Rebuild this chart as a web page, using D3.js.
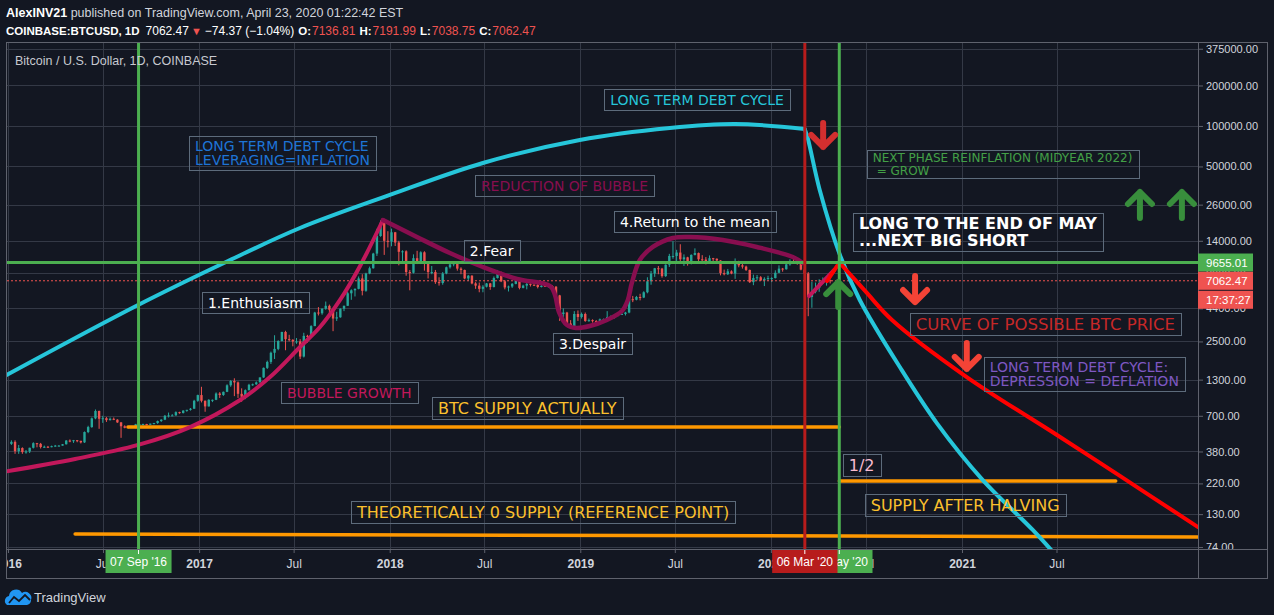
<!DOCTYPE html>
<html>
<head>
<meta charset="utf-8">
<title>BTCUSD - long term debt cycle</title>
<script src="https://cdn.jsdelivr.net/npm/d3@7"></script>
<style>
  html, body { margin: 0; padding: 0; background: #131722; overflow: hidden; }
  svg { display: block; }
  text { font-family: "Liberation Sans", Arial, sans-serif; }
  .note { font-family: "DejaVu Sans", Verdana, sans-serif; white-space: pre; }
</style>
</head>
<body>
<svg id="chart" width="1274" height="615"></svg>
<script>
// weekly candles, first week starts Mon 4 Jan 2016, a week opens at the previous close
const firstOpen = 433
const weekClose = [
  448, 382, 403, 376, 380, 405, 438, 433, 410, 412, 410, 416, 420, 420, 430, 458, 453, 461, 456, 444, 530, 577, 670, 760, 665, 672,
  650, 665, 655, 625, 585, 570, 580, 572, 605, 608, 608, 601, 612, 618, 640, 655, 700, 705, 705, 745, 735, 765, 775, 790, 905, 998,
  905, 822, 920, 920, 1025, 1000, 1055, 1180, 1270, 1240, 1020, 970, 1085, 1190, 1200, 1240, 1350, 1590, 1760, 2060, 2200, 2520,
  2940, 2600, 2570, 2500, 2500, 1930, 2750, 2740, 3250, 4100, 4050, 4380, 4600, 4300, 3700, 3780, 4380, 4600, 5700, 6000, 6150,
  7350, 5950, 8000, 8750, 11250, 15200, 19100, 14000, 13800,
  16200, 13600, 11600, 11700, 8200, 8100, 10400, 9600, 11500, 9500, 8200, 8200, 6900, 6800, 8000, 8900, 9350, 9650, 8700, 8500,
  7350, 7700, 6750, 6500, 6150, 6380, 6750, 6350, 7400, 8200, 7000, 6300, 6400, 6700, 7300, 6250, 6500, 6700, 6600, 6570, 6350,
  6480, 6420, 6450, 6380, 5500, 4000, 4100, 3400, 3250, 4000, 3800,
  4000, 3550, 3600, 3550, 3450, 3650, 3650, 3800, 3830, 3920, 4000, 4000, 4100, 5150, 5100, 5350, 5300, 5800, 7000, 8000, 8750,
  8700, 7650, 9300, 10800, 10800, 11450, 10200, 10550, 9550, 11000, 11350, 10200, 10150, 9750, 10400, 10300, 10000, 8050, 7900,
  8300, 8000, 9550, 9200, 9000, 8500, 6900, 7400, 7500, 7100, 7300, 7400, 7400,
  8100, 8700, 8600, 9350, 9900, 9700, 9650, 8550, 8000, 5350, 5850, 6250, 6800, 6900, 7130, 7062.47
]
const weekHigh = [
  460, 460, 425, 408, 390, 405, 445, 440, 440, 420, 418, 420, 425, 424, 432, 462, 467, 463, 462, 456, 535, 590, 680, 780, 765, 700,
  685, 680, 680, 660, 630, 595, 585, 585, 610, 630, 612, 610, 612, 620, 645, 660, 710, 740, 720, 755, 750, 770, 775, 800, 920, 1005,
  1150, 910, 930, 925, 1045, 1050, 1060, 1200, 1290, 1330, 1260, 1120, 1100, 1210, 1215, 1260, 1350, 1600, 1800, 2100, 2780, 2550,
  2950, 3000, 2800, 2600, 2650, 2600, 2900, 2800, 3300, 4150, 4500, 4400, 4950, 4700, 4400, 4150, 4400, 4620, 5850, 6100, 6200,
  7600, 7900, 8100, 9000, 11400, 17200, 19900, 19200, 16500,
  17250, 16300, 14000, 11900, 11900, 8500, 11100, 11800, 11700, 11700, 9900, 9100, 8500, 7500, 8200, 9000, 9750, 9900, 9700, 8900,
  8550, 7800, 7780, 6900, 6850, 6550, 6800, 6800, 7600, 8500, 8250, 7150, 6500, 6800, 7350, 7400, 6600, 6800, 6750, 6650, 6700,
  6800, 6550, 6600, 6550, 6450, 5550, 4400, 4150, 3600, 4200, 4250,
  4100, 4100, 3700, 3650, 3600, 3700, 3700, 4200, 3900, 3950, 4050, 4100, 4150, 5300, 5450, 5450, 5650, 5900, 7500, 8350, 8800,
  9100, 8800, 9350, 11200, 13900, 12000, 13200, 11100, 10650, 11100, 12300, 11450, 10950, 10600, 10900, 10450, 10350, 10050, 8550,
  8650, 8450, 10350, 9950, 9500, 9150, 8550, 7850, 7800, 7650, 7500, 7700, 7500,
  8450, 9200, 8800, 9600, 10200, 10500, 10200, 9950, 9200, 8200, 6950, 6850, 7250, 7480, 7300, 7200
]
const weekLow = [
  425, 365, 365, 365, 366, 370, 400, 408, 400, 405, 406, 408, 412, 415, 420, 428, 445, 440, 445, 436, 440, 520, 570, 660, 560, 620,
  630, 645, 650, 620, 480, 565, 565, 570, 565, 600, 600, 595, 600, 605, 610, 630, 650, 680, 700, 700, 725, 728, 750, 765, 790, 890,
  880, 750, 820, 885, 915, 950, 985, 1050, 1150, 980, 950, 890, 930, 1080, 1170, 1190, 1240, 1340, 1560, 1700, 1850, 2150,
  2500, 2150, 2500, 2300, 2400, 1850, 1900, 2450, 2650, 3250, 3900, 3950, 4300, 4000, 2980, 3550, 3750, 4200, 4600, 5100, 5400,
  6100, 5500, 5850, 7900, 8700, 10800, 15000, 11000, 12500,
  12750, 12800, 9200, 9900, 7700, 6000, 8000, 9400, 9400, 8400, 7350, 7900, 6700, 6500, 6600, 7900, 8700, 9050, 8400, 7900,
  7250, 7050, 6650, 6150, 5800, 5800, 6300, 6050, 6300, 7350, 6900, 6100, 5880, 6250, 6650, 6100, 6200, 6100, 6400, 6450, 6200,
  6300, 6400, 6280, 6350, 5300, 3550, 3550, 3300, 3200, 3200, 3550,
  3700, 3500, 3500, 3450, 3350, 3350, 3550, 3600, 3700, 3700, 3850, 3950, 3900, 4050, 4900, 5050, 5050, 5250, 5700, 6600, 7550,
  7900, 7450, 7550, 8950, 10300, 9650, 9900, 9100, 9150, 9350, 10900, 9450, 9800, 9350, 9700, 9900, 9600, 7750, 7750,
  7800, 7900, 7300, 8900, 8700, 8350, 6800, 6550, 7100, 7050, 6450, 7050, 6900,
  7350, 8050, 8250, 8550, 9150, 9650, 9300, 8450, 7900, 3850, 4450, 5700, 5850, 6750, 6500, 6750
]

const priceTicks = [375000, 200000, 100000, 50000, 26000, 14000, 8000, 4400, 2500, 1300, 700, 380, 220, 130, 74]
const timeTicks = ['2016-01-01', '2016-07-01', '2017-01-01', '2017-07-01', '2018-01-01', '2018-07-01',
                   '2019-01-01', '2019-07-01', '2020-01-01', '2020-07-01', '2021-01-01', '2021-07-01']

const lastBar = [7136.81, 7191.99, 7038.75, 7062.47]   // O H L C of the running day
const lastChange = [-74.37, -1.04]
const levelPrice = 9655.01
const countdown = '17:37:27'

const markDates = ['2016-09-07', '2020-05-11', '2020-03-06']
const markLabels = ["07 Sep '16", "11 May '20", "06 Mar '20"]

// drawings, points are [decimal year, price]
const debtCycleRise = [[2015.99, 1400], [2016.682, 4664], [2017.143, 9740], [2017.531, 17430], [2018.002, 30680],
  [2018.490, 53070], [2018.998, 78680], [2019.470, 96630], [2019.810, 103500], [2020.177, 95000]]
const debtCycleFall = [[2020.177, 95000], [2020.193, 81400], [2020.256, 33430], [2020.366, 10610], [2020.466, 5084],
  [2020.676, 1613], [2020.870, 618], [2021.111, 233], [2021.373, 99.1], [2021.540, 54.4]]
const bubbleGrowth = [[2015.99, 270], [2016.352, 334], [2016.682, 425], [2016.955, 577], [2017.217, 917], [2017.374, 1359],
  [2017.531, 2272], [2017.636, 3200], [2017.741, 5084], [2017.846, 9100], [2017.966, 19990]]
const bubbleReduction = [[2017.966, 19990], [2018.144, 14940], [2018.317, 11360], [2018.490, 8944], [2018.669, 7280],
  [2018.842, 6457], [2018.868, 5536], [2018.889, 4137], [2018.931, 3311], [2018.978, 3146], [2019.051, 3255],
  [2019.140, 3609], [2019.219, 4210], [2019.250, 5084], [2019.271, 6800], [2019.313, 10080], [2019.381, 12600],
  [2019.486, 14690], [2019.575, 14940], [2019.748, 14200], [2019.926, 12600], [2020.115, 10610], [2020.167, 9574]]
const bubbleRebound = [[2020.200, 5440], [2020.331, 8490]]
const priceRise = [[2020.294, 7030], [2020.359, 9655]]
const priceFall = [[2020.359, 9655], [2020.494, 5932], [2020.635, 3609], [2021.027, 1359], [2021.500, 504],
  [2021.830, 250], [2022.240, 104]]
const supplyNow = [[2016.629, 577], [2020.359, 577]]
const supplyHalf = [[2020.359, 229], [2021.808, 229]]
const supplyZero = [[2016.352, 92.5], [2022.240, 87.9]]

// arrows: [decimal year, tail price, tip price]
const downArrows = [[2020.274, 110800, 66300], [2020.756, 8070, 4664], [2021.027, 2563, 1482]]
const upArrows = [[2020.353, 4282, 7280], [2021.935, 19660, 33990], [2022.155, 19660, 33990]]

// text notes: top-left corner at [decimal year, price]
const notes = [
  { t: 2019.126, p: 188400, s: 'cyan', lines: ['LONG TERM DEBT CYCLE'] },
  { t: 2016.949, p: 84260, s: 'blue', lines: ['LONG TERM DEBT CYCLE', 'LEVERAGING=INFLATION'] },
  { t: 2018.448, p: 43210, s: 'maroon', lines: ['REDUCTION OF BUBBLE'] },
  { t: 2019.177, p: 23330, s: 'white', lines: ['4.Return to the mean'] },
  { t: 2018.390, p: 14200, s: 'white', lines: ['2.Fear'] },
  { t: 2017.017, p: 5830, s: 'white', lines: ['1.Enthusiasm'] },
  { t: 2018.857, p: 2887, s: 'white', lines: ['3.Despair'] },
  { t: 2017.431, p: 1248, s: 'pink', lines: ['BUBBLE GROWTH'] },
  { t: 2018.223, p: 966, s: 'gold', lines: ['BTC SUPPLY ACTUALLY'] },
  { t: 2017.798, p: 162.7, s: 'gold', lines: ['THEORETICALLY 0 SUPPLY (REFERENCE POINT)'] },
  { t: 2020.503, p: 66300, s: 'green', lines: ['NEXT PHASE REINFLATION (MIDYEAR 2022)', ' = GROW'] },
  { t: 2020.430, p: 22540, s: 'bold', lines: ['LONG TO THE END OF MAY', '...NEXT BIG SHORT'] },
  { t: 2020.728, p: 4068, s: 'red', lines: ['CURVE OF POSSIBLE BTC PRICE'] },
  { t: 2021.116, p: 1916, s: 'purple', lines: ['LONG TERM DEBT CYCLE:', 'DEPRESSION = DEFLATION'] },
  { t: 2020.377, p: 364, s: 'rose', lines: ['1/2'] },
  { t: 2020.492, p: 183.5, s: 'gold', lines: ['SUPPLY AFTER HALVING'] }
]

const noteStyles = {
  cyan:   { color: '#26c6da', size: 14, lh: 15, pad: 3 },
  blue:   { color: '#1e74d6', size: 14, lh: 14, pad: 3 },
  maroon: { color: '#880e4f', size: 14, lh: 15, pad: 3 },
  white:  { color: '#ffffff', size: 14, lh: 15, pad: 3 },
  pink:   { color: '#c2185b', size: 14, lh: 15, pad: 3 },
  gold:   { color: '#fbc02d', size: 16, lh: 16, pad: 3 },
  green:  { color: '#43a047', size: 12, lh: 13, pad: 1 },
  bold:   { color: '#ffffff', size: 16, lh: 17, pad: 2, weight: 'bold' },
  red:    { color: '#c62828', size: 16.5, lh: 16, pad: 3 },
  purple: { color: '#7e57c2', size: 14, lh: 14.5, pad: 2.5 },
  rose:   { color: '#f8bbd0', size: 16, lh: 16, pad: 3 }
}

const plot = { left: 7, right: 1198, top: 43, bottom: 549 }
const frameRight = 1267, frameBottom = 578
const bg = '#131722', gridColor = '#343946', frameColor = '#5f626d', textColor = '#d1d4dc'
const upColor = '#26a69a', downColor = '#ef5350'

const svg = d3.select('#chart')

const x = d3.scaleUtc()
  .domain([new Date(Date.UTC(2016, 0, 1)), new Date(Date.UTC(2021, 0, 1))])
  .range([8, 962])
const y = d3.scaleLog().domain([72.8, 421000]).range([548, 42])

const yearToDate = (yr) => new Date(Date.UTC(2016, 0, 1) + (yr - 2016) * 365.25 * 864e5)
const parseDay = d3.utcParse('%Y-%m-%d')

svg.append('rect').attr('width', 1274).attr('height', 615).attr('fill', bg)

const defs = svg.append('defs')
defs.append('clipPath').attr('id', 'plotClip').append('rect')
  .attr('x', plot.left).attr('y', plot.top)
  .attr('width', plot.right - plot.left).attr('height', plot.bottom - plot.top)
defs.append('clipPath').attr('id', 'timeClip').append('rect')
  .attr('x', plot.left).attr('y', plot.bottom)
  .attr('width', plot.right - plot.left).attr('height', frameBottom - plot.bottom)
defs.append('clipPath').attr('id', 'priceClip').append('rect')
  .attr('x', plot.right).attr('y', plot.top)
  .attr('width', frameRight - plot.right).attr('height', plot.bottom - plot.top)

/**
 * Grid lines behind everything
 */
function drawGrid (g) {
  g.selectAll('.hgrid').data(priceTicks).enter().append('line')
    .attr('x1', plot.left).attr('x2', plot.right)
    .attr('y1', d => Math.round(y(d)) + 0.5).attr('y2', d => Math.round(y(d)) + 0.5)
    .attr('stroke', gridColor)
  g.selectAll('.vgrid').data(timeTicks).enter().append('line')
    .attr('x1', d => Math.round(x(parseDay(d))) + 0.5).attr('x2', d => Math.round(x(parseDay(d))) + 0.5)
    .attr('y1', plot.top).attr('y2', plot.bottom)
    .attr('stroke', gridColor)
}

/**
 * Draws the weekly candles
 */
function drawCandles (g) {
  const start = Date.UTC(2016, 0, 4)
  const bars = weekClose.map((c, i) => {
    const o = i === 0 ? firstOpen : weekClose[i - 1]
    return {
      t: new Date(start + (i * 7 + 3.5) * 864e5),
      o: o, c: c,
      h: Math.max(weekHigh[i], o, c),
      l: Math.min(weekLow[i], o, c)
    }
  })
  const bw = 2.4
  g.selectAll('.wick').data(bars).enter().append('line')
    .attr('x1', d => x(d.t)).attr('x2', d => x(d.t))
    .attr('y1', d => y(d.h)).attr('y2', d => y(d.l))
    .attr('stroke', d => d.c >= d.o ? upColor : downColor)
    .attr('stroke-width', 1)
  g.selectAll('.body').data(bars).enter().append('rect')
    .attr('x', d => x(d.t) - bw / 2)
    .attr('y', d => y(Math.max(d.o, d.c)))
    .attr('width', bw)
    .attr('height', d => Math.max(1, y(Math.min(d.o, d.c)) - y(Math.max(d.o, d.c))))
    .attr('fill', d => d.c >= d.o ? upColor : downColor)
}

/**
 * Trend lines, curves, level lines and arrows
 */
function drawDrawings (g) {
  const smooth = d3.line()
    .x(d => x(yearToDate(d[0]))).y(d => y(d[1]))
    .curve(d3.curveCatmullRom.alpha(0.5))
  const straight = d3.line()
    .x(d => x(yearToDate(d[0]))).y(d => y(d[1]))

  const paths = [
    [supplyZero, straight, '#ff9800', 3.5],
    [supplyNow, straight, '#ff9800', 3.5],
    [supplyHalf, straight, '#ff9800', 3.5],
    [bubbleGrowth, smooth, '#c2185b', 4],
    [bubbleReduction, smooth, '#880e4f', 4.5],
    [bubbleRebound, straight, '#c2185b', 4],
    [debtCycleRise, smooth, '#26c6da', 4],
    [debtCycleFall, smooth, '#26c6da', 4],
    [priceRise, straight, '#ff0000', 4],
    [priceFall, smooth, '#ff0000', 4]
  ]
  paths.forEach(p => {
    g.append('path')
      .attr('d', p[1](p[0]))
      .attr('fill', 'none')
      .attr('stroke', p[2])
      .attr('stroke-width', p[3])
      .attr('stroke-linecap', 'round')
  })

  // horizontal level
  g.append('line')
    .attr('x1', plot.left).attr('x2', plot.right)
    .attr('y1', y(levelPrice)).attr('y2', y(levelPrice))
    .attr('stroke', '#4caf50').attr('stroke-width', 3)

  // vertical date lines
  const vColors = ['#4caf50', '#4caf50', '#b71c1c']
  markDates.forEach((d, i) => {
    const vx = x(parseDay(d))
    g.append('line')
      .attr('x1', vx).attr('x2', vx)
      .attr('y1', plot.top).attr('y2', plot.bottom)
      .attr('stroke', vColors[i]).attr('stroke-width', 3)
  })

  const arrow = (a, color) => {
    const cx = x(yearToDate(a[0]))
    const tail = y(a[1]), tip = y(a[2])
    const dir = tip > tail ? 1 : -1
    const t0 = tail + dir * 3, t1 = tip - dir * 3
    const hs = 12
    g.append('path')
      .attr('d', `M${cx},${t0}L${cx},${t1}M${cx - hs},${t1 - dir * hs}L${cx},${t1}L${cx + hs},${t1 - dir * hs}`)
      .attr('fill', 'none')
      .attr('stroke', color)
      .attr('stroke-width', 6)
      .attr('stroke-linecap', 'round')
      .attr('stroke-linejoin', 'round')
  }
  downArrows.forEach((a, i) => arrow(a, i === 0 ? '#d32f2f' : '#f44336'))
  upArrows.forEach(a => arrow(a, '#388e3c'))
}

/**
 * Bordered text notes
 */
function drawNotes (g) {
  notes.forEach(n => {
    const st = noteStyles[n.s]
    const left = x(yearToDate(n.t))
    const top = y(n.p)
    const box = g.append('rect')
    const txt = g.append('text')
      .attr('class', 'note')
      .attr('font-size', st.size)
      .attr('font-weight', st.weight || 'normal')
      .attr('fill', st.color)
    n.lines.forEach((line, i) => {
      txt.append('tspan')
        .attr('x', left + 6)
        .attr('y', top + st.pad + st.lh * (i + 0.5) + st.size * 0.36)
        .text(line)
    })
    const w = d3.max(txt.selectAll('tspan').nodes(), t => t.getComputedTextLength())
    box.attr('x', Math.round(left) + 0.5).attr('y', Math.round(top) + 0.5)
      .attr('width', Math.round(w + 12))
      .attr('height', Math.round(st.lh * n.lines.length + 2 * st.pad))
      .attr('fill', 'none')
      .attr('stroke', '#5d6b7b')
      .attr('stroke-width', 1)
  })
}

/**
 * Price and time scales, frame and the labels sitting on them
 */
function drawAxes () {
  const yAxis = d3.axisRight(y)
    .tickValues(priceTicks)
    .tickFormat(d3.format('.2f'))
    .tickSize(5)
    .tickPadding(3)
  const ya = svg.append('g')
    .attr('clip-path', 'url(#priceClip)')
    .append('g')
    .attr('transform', `translate(${plot.right},0)`)
    .call(yAxis)
  ya.select('.domain').remove()
  ya.selectAll('line').attr('stroke', frameColor)
  ya.selectAll('text').attr('fill', textColor).attr('font-size', 11)
    .attr('font-family', '"Liberation Sans", Arial, sans-serif')

  const xAxis = d3.axisBottom(x)
    .tickValues(timeTicks.map(parseDay))
    .tickFormat(d => d.getUTCMonth() === 0 ? d3.utcFormat('%Y')(d) : d3.utcFormat('%b')(d))
    .tickSize(4)
    .tickPadding(6)
  const xa = svg.append('g')
    .attr('clip-path', 'url(#timeClip)')
    .append('g')
    .attr('transform', `translate(0,${plot.bottom})`)
    .call(xAxis)
  xa.select('.domain').remove()
  xa.selectAll('line').attr('stroke', frameColor)
  xa.selectAll('text').attr('fill', textColor).attr('font-size', 12)
    .attr('font-family', '"Liberation Sans", Arial, sans-serif')
    .attr('font-weight', d => d.getUTCMonth() === 0 ? 'bold' : 'normal')

  // frame
  const f = svg.append('g').attr('stroke', frameColor).attr('fill', 'none')
  f.append('rect').attr('x', 6.5).attr('y', 42.5).attr('width', frameRight - 6).attr('height', frameBottom - 42)
  f.append('line').attr('x1', plot.right + 0.5).attr('x2', plot.right + 0.5).attr('y1', 42).attr('y2', frameBottom)
  f.append('line').attr('x1', 6).attr('x2', frameRight).attr('y1', plot.bottom + 0.5).attr('y2', plot.bottom + 0.5)

  // date markers on the time scale
  const mColors = ['#4caf50', '#4caf50', '#b71c1c']
  markDates.forEach((d, i) => {
    const mx = x(parseDay(d))
    const g = svg.append('g')
    const r = g.append('rect')
    const t = g.append('text')
      .attr('x', mx).attr('y', 566)
      .attr('text-anchor', 'middle')
      .attr('font-size', 12)
      .attr('fill', '#ffffff')
      .text(markLabels[i])
    const w = t.node().getComputedTextLength() + 9
    r.attr('x', mx - w / 2).attr('y', 550).attr('width', w).attr('height', 23).attr('fill', mColors[i])
    g.append('line').attr('x1', mx).attr('x2', mx).attr('y1', 550).attr('y2', 554)
      .attr('stroke', '#ffffff')
  })

  // price labels on the price scale
  const tags = [
    [y(levelPrice), d3.format('.2f')(levelPrice), '#4caf50'],
    [y(lastBar[3]), d3.format('.2f')(lastBar[3]), '#ef5350'],
    [y(lastBar[3]) + 19, countdown, '#ef5350']
  ]
  tags.forEach(tg => {
    svg.append('rect')
      .attr('x', plot.right).attr('y', tg[0] - 9)
      .attr('width', 55).attr('height', 18)
      .attr('fill', tg[2])
    svg.append('text')
      .attr('x', plot.right + 8).attr('y', tg[0] + 4)
      .attr('font-size', 11.5)
      .attr('fill', '#ffffff')
      .text(tg[1])
  })
}

/**
 * Publisher lines, symbol legend and the logo
 */
function drawHeader () {
  const f2 = d3.format('.2f')
  const h = svg.append('g').attr('font-size', 12.5).attr('fill', textColor)

  const l1 = h.append('text').attr('x', 6).attr('y', 17)
  l1.append('tspan').attr('font-weight', 'bold').attr('fill', '#ffffff').text('AlexINV21')
  l1.append('tspan').text(' published on TradingView.com, April 23, 2020 01:22:42 EST')

  const l2 = h.append('text').attr('x', 6).attr('y', 35).attr('fill', '#ffffff').attr('font-size', 12)
  l2.append('tspan').attr('font-weight', 'bold').attr('font-size', 11.5).text('COINBASE:BTCUSD, 1D')
  l2.append('tspan').attr('dx', 6).text(f2(lastBar[3]))
  l2.append('tspan').attr('dx', 2).attr('fill', '#ef5350').attr('font-size', 11).text('▼')
  l2.append('tspan').attr('dx', 3).text(`${f2(lastChange[0])} (${f2(lastChange[1])}%)`)
  const labels = ['O:', 'H:', 'L:', 'C:']
  lastBar.forEach((v, i) => {
    l2.append('tspan').attr('dx', 4).attr('font-weight', 'bold').attr('font-size', 11.5).text(labels[i])
    l2.append('tspan').attr('dx', 1).attr('fill', '#ef5350').text(f2(v))
  })

  h.append('text').attr('x', 15).attr('y', 65).attr('fill', '#c7c9d0')
    .text('Bitcoin / U.S. Dollar, 1D, COINBASE')

  // logo
  const logo = svg.append('g')
  logo.append('path')
    .attr('d', 'M7,605 A5,5 0 0 1 9,596 A7,7 0 0 1 22,593 A6,6 0 0 1 31,600 A5,5 0 0 1 27,605 Z')
    .attr('fill', '#2196f3')
  logo.append('path')
    .attr('d', 'M9,603 L14,597 L19,601 L25,595 L30,600')
    .attr('fill', 'none').attr('stroke', bg).attr('stroke-width', 1.8)
  logo.append('text').attr('x', 34).attr('y', 602)
    .attr('font-size', 13).attr('fill', '#d1d4dc')
    .text('TradingView')
}

const gridG = svg.append('g').attr('clip-path', 'url(#plotClip)')
drawGrid(gridG)
const candleG = svg.append('g').attr('clip-path', 'url(#plotClip)')
drawCandles(candleG)

// last price line
svg.append('line')
  .attr('x1', plot.left).attr('x2', plot.right)
  .attr('y1', y(lastBar[3])).attr('y2', y(lastBar[3]))
  .attr('stroke', '#ef5350').attr('stroke-dasharray', '2,2')

const drawG = svg.append('g').attr('clip-path', 'url(#plotClip)')
drawDrawings(drawG)
drawNotes(svg.append('g'))
drawAxes()
drawHeader()
</script>
</body>
</html>
